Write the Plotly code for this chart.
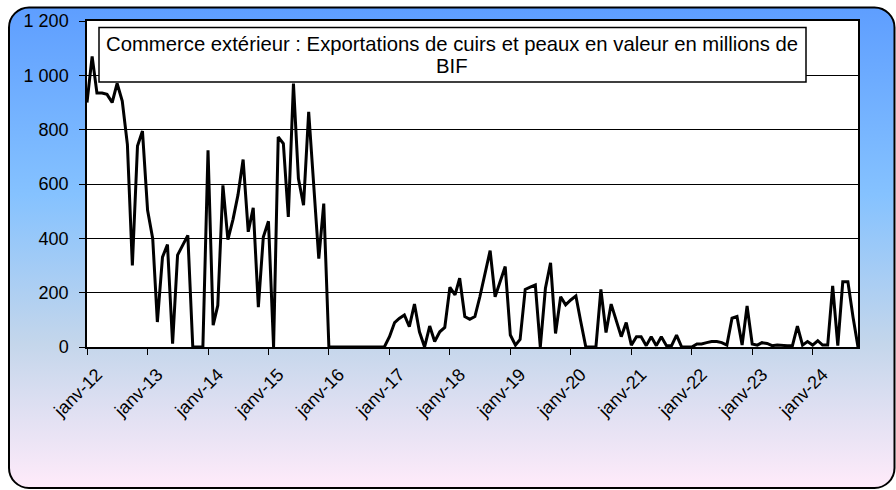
import base64
import pandas as pd
import plotly.graph_objects as go

# Monthly exports of hides and skins (millions BIF), Jan 2012 - Oct 2024
v2012 = [900, 1070, 935, 935, 930, 900, 970, 905, 745, 300, 740, 795]
v2013 = [503, 399, 92, 331, 377, 12, 338, 374, 411, 0, 0, 0]
v2014 = [724, 80, 153, 595, 395, 470, 560, 690, 424, 512, 147, 405]
v2015 = [463, 0, 773, 749, 479, 970, 620, 522, 866, 600, 325, 528]
v2016 = [0, 0, 0, 0, 0, 0, 0, 0, 0, 0, 0, 0]
v2017 = [38, 90, 105, 118, 75, 158, 56, 0, 77, 20, 56, 72]
v2018 = [220, 192, 253, 112, 102, 112, 185, 270, 355, 185, 240, 296]
v2019 = [44, 7, 28, 212, 220, 228, 0, 216, 310, 50, 185, 155]
v2020 = [173, 188, 95, 0, 0, 0, 212, 53, 158, 95, 38, 90]
v2021 = [7, 38, 38, 5, 38, 5, 38, 5, 5, 44, 0, 0]
v2022 = [0, 11, 11, 16, 20, 20, 16, 7, 106, 112, 7, 151]
v2023 = [11, 7, 16, 13, 5, 7, 5, 5, 5, 77, 7, 20]
v2024 = [7, 23, 7, 7, 225, 5, 240, 240, 110, 0]

values = (v2012 + v2013 + v2014 + v2015 + v2016 + v2017 + v2018 + v2019
          + v2020 + v2021 + v2022 + v2023 + v2024)
dates = pd.date_range("2012-01-01", periods=len(values), freq="MS")

tick_years = list(range(2012, 2025))
tick_vals = [f"{y}-01-01" for y in tick_years]
tick_text = [f"janv-{y % 100:02d}" for y in tick_years]

y_vals = [0, 200, 400, 600, 800, 1000, 1200]
y_text = ["0", "200", "400", "600", "800", "1 000", "1 200"]

title_line1 = "Commerce extérieur : Exportations de cuirs et peaux en valeur en millions de"
title_line2 = "BIF"

W, H = 896, 490
L, T, R, B = 87, 21, 38, 143
PW, PH = W - L - R, H - T - B


def px_x(x):
    return (x - L) / PW


def px_y(y):
    return 1 - (y - T) / PH


svg = (f'<svg xmlns="http://www.w3.org/2000/svg" width="{W}" height="{H}" viewBox="0 0 {W} {H}">'
       '<defs><linearGradient id="g" x1="0" y1="0" x2="0" y2="1">'
       '<stop offset="0" stop-color="#5E9EFF"/><stop offset="0.39" stop-color="#85C2FF"/>'
       '<stop offset="0.7" stop-color="#C4D6EB"/><stop offset="1" stop-color="#FFEBFA"/>'
       '</linearGradient></defs>'
       '<rect x="9" y="7.5" width="885.5" height="480.5" rx="20" ry="20" fill="url(#g)" '
       'stroke="black" stroke-width="2"/></svg>')
svg_uri = "data:image/svg+xml;base64," + base64.b64encode(svg.encode()).decode()

fig = go.Figure()
fig.add_trace(go.Scatter(x=dates, y=values, mode="lines",
                         line=dict(color="black", width=3), hoverinfo="x+y"))

font_family = "Liberation Sans, Arial, sans-serif"

fig.update_layout(
    width=W, height=H,
    margin=dict(l=L, r=R, t=T, b=B, pad=0),
    paper_bgcolor="white",
    plot_bgcolor="white",
    showlegend=False,
    font=dict(family=font_family, color="black"),
    images=[dict(source=svg_uri, xref="paper", yref="paper",
                 x=-L / PW, y=1 + T / PH, sizex=W / PW, sizey=H / PH,
                 xanchor="left", yanchor="top", sizing="stretch", layer="below")],
    shapes=[
        dict(type="rect", xref="paper", yref="paper", x0=0, x1=1, y0=0, y1=1,
             fillcolor="white", line=dict(width=0), layer="below"),
        dict(type="rect", xref="paper", yref="paper",
             x0=px_x(99), x1=px_x(806), y0=px_y(82), y1=px_y(27.5),
             fillcolor="white", line=dict(color="black", width=1.5), layer="above"),
    ],
    xaxis=dict(
        type="date",
        range=["2012-01-01", dates[-1].strftime("%Y-%m-%d")],
        tickmode="array", tickvals=tick_vals, ticktext=tick_text,
        tickangle=-45, tickfont=dict(size=18, family=font_family),
        ticklabelshift=10, ticklabelstandoff=2,
        ticks="outside", ticklen=6, tickwidth=1, tickcolor="black",
        showgrid=False, zeroline=False,
        showline=True, linecolor="black", linewidth=2, mirror=True,
    ),
    yaxis=dict(
        range=[0, 1200],
        tickmode="array", tickvals=y_vals, ticktext=y_text,
        tickfont=dict(size=18, family=font_family),
        ticks="outside", ticklen=6, tickwidth=1, tickcolor="black",
        ticklabelstandoff=7,
        showgrid=True, gridcolor="black", gridwidth=1,
        zeroline=False,
        showline=True, linecolor="black", linewidth=1.5, mirror=True,
    ),
    annotations=[
        dict(text=title_line1, xref="paper", yref="paper",
             x=px_x(452), y=px_y(43.5), xanchor="center", yanchor="middle",
             showarrow=False, font=dict(size=20.3, family=font_family, color="black")),
        dict(text=title_line2, xref="paper", yref="paper",
             x=px_x(452), y=px_y(65.5), xanchor="center", yanchor="middle",
             showarrow=False, font=dict(size=20.3, family=font_family, color="black")),
    ],
)

fig.write_html("out.html", config={"displayModeBar": False},
               post_script="document.body.style.margin='0px';")
